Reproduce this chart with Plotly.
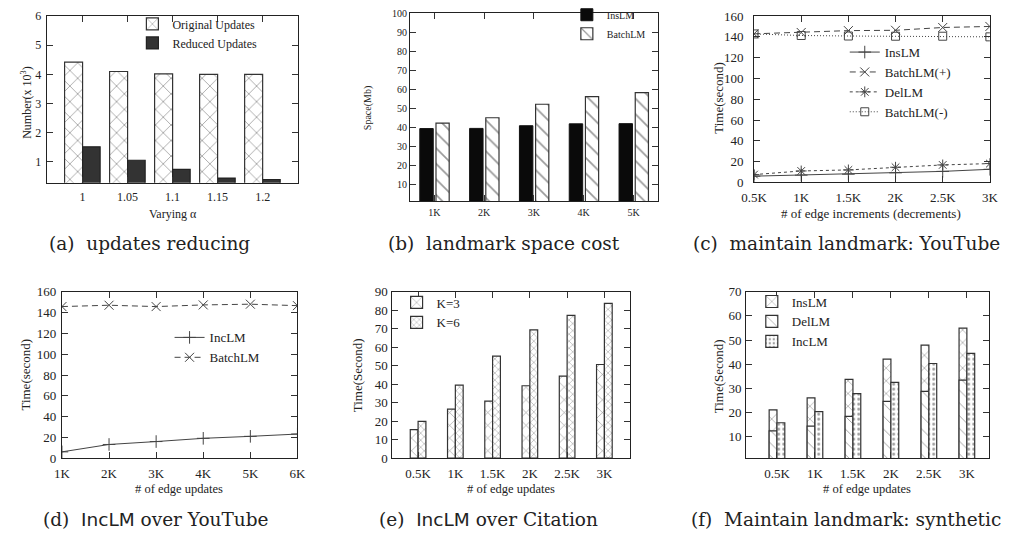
import plotly.graph_objects as go

W, H = 1025, 543

# ---------------- data ----------------
# (a) updates reducing
alpha_cats = ["1", "1.05", "1.1", "1.15", "1.2"]
original_updates = [4.42, 4.10, 4.02, 4.00, 4.00]
reduced_updates = [1.52, 1.06, 0.75, 0.45, 0.40]

# (b) landmark space cost
space_cats = ["1K", "2K", "3K", "4K", "5K"]
space_inslm = [39.3, 39.4, 40.8, 41.8, 41.9]
space_batchlm = [42.2, 45.0, 52.1, 56.1, 58.2]

# (c) maintain landmark: YouTube
c_x = [0.5, 1.0, 1.5, 2.0, 2.5, 3.0]
c_ticktext = ["0.5K", "1K", "1.5K", "2K", "2.5K", "3K"]
c_inslm = [6.0, 7.0, 7.9, 9.2, 10.6, 12.6]
c_batch_plus = [142.9, 144.2, 146.0, 146.3, 149.0, 150.0]
c_dellm = [7.5, 11.0, 12.0, 14.6, 16.8, 18.1]
c_batch_minus = [142.8, 141.3, 140.8, 140.6, 140.6, 140.0]

# (d) IncLM over YouTube
d_x = [1, 2, 3, 4, 5, 6]
d_ticktext = ["1K", "2K", "3K", "4K", "5K", "6K"]
d_inclm = [6.2, 13.3, 16.1, 19.2, 21.1, 23.3]
d_batchlm = [145.7, 147.0, 145.7, 147.3, 148.0, 146.6]

# (e) IncLM over Citation
e_cats = ["0.5K", "1K", "1.5K", "2K", "2.5K", "3K"]
e_k3 = [15.4, 26.5, 30.8, 39.1, 44.3, 50.6]
e_k6 = [19.8, 39.4, 55.1, 69.3, 77.2, 83.7]

# (f) Maintain landmark: synthetic
f_cats = ["0.5K", "1K", "1.5K", "2K", "2.5K", "3K"]
f_inslm = [21.1, 26.1, 33.7, 42.1, 47.9, 54.9]
f_dellm = [12.4, 14.4, 18.4, 24.6, 28.8, 33.4]
f_inclm = [15.8, 20.4, 27.8, 32.5, 40.3, 44.5]

# ---------------- helpers ----------------
SERIF = "Liberation Serif"
CAP = "DejaVu Serif"
TXT = "#222"


def px_x(x):
    return x / W


def px_y(y):
    return 1 - y / H


def dom_x(x0, x1):
    return [x0 / W, x1 / W]


def dom_y(y0, y1):
    return [1 - y1 / H, 1 - y0 / H]


def axis_style(fs, standoff=0):
    return dict(
        showline=True, linecolor="#222", linewidth=1, mirror="ticks",
        ticks="inside", ticklen=6, tickcolor="#333", tickwidth=1,
        showgrid=False, zeroline=False, ticklabelstandoff=standoff,
        tickfont=dict(family=SERIF, size=fs, color=TXT),
    )


fig = go.Figure()

# ---------- (a) ----------
fig.add_trace(go.Bar(
    x=alpha_cats, y=original_updates, name="Original Updates",
    xaxis="x", yaxis="y", offset=-0.4, width=0.4, legend="legend",
    marker=dict(color="white", line=dict(color="#333", width=1.2),
                pattern=dict(shape="x", size=11, solidity=0.12,
                             fgcolor="#888", bgcolor="white", fillmode="replace")),
))
fig.add_trace(go.Bar(
    x=alpha_cats, y=reduced_updates, name="Reduced Updates",
    xaxis="x", yaxis="y", offset=0.0, width=0.39, legend="legend",
    marker=dict(color="#333", line=dict(color="#222", width=1.2)),
))

# ---------- (b) ----------
fig.add_trace(go.Bar(
    x=space_cats, y=space_inslm, name="InsLM",
    xaxis="x2", yaxis="y2", offset=-0.29, width=0.27, legend="legend2",
    marker=dict(color="#0a0a0a", line=dict(color="#111", width=1)),
))
fig.add_trace(go.Bar(
    x=space_cats, y=space_batchlm, name="BatchLM",
    xaxis="x2", yaxis="y2", offset=0.035, width=0.265, legend="legend2",
    marker=dict(color="white", line=dict(color="#333", width=1.2),
                pattern=dict(shape="\\", size=11, solidity=0.15,
                             fgcolor="#999", bgcolor="white", fillmode="replace")),
))

# ---------- (c) ----------
lc = "#444"
fig.add_trace(go.Scatter(
    x=c_x, y=c_inslm, name="InsLM", mode="lines+markers", xaxis="x3", yaxis="y3",
    legend="legend3", line=dict(color=lc, width=1),
    marker=dict(symbol="cross-thin", size=9, color=lc, line=dict(color=lc, width=1)),
))
fig.add_trace(go.Scatter(
    x=c_x, y=c_batch_plus, name="BatchLM(+)", mode="lines+markers", xaxis="x3", yaxis="y3",
    legend="legend3", line=dict(color=lc, width=1, dash="6px,4px"),
    marker=dict(symbol="x-thin", size=9, color=lc, line=dict(color=lc, width=1)),
))
fig.add_trace(go.Scatter(
    x=c_x, y=c_dellm, name="DelLM", mode="lines+markers", xaxis="x3", yaxis="y3",
    legend="legend3", line=dict(color=lc, width=1, dash="3px,3px"),
    marker=dict(symbol="asterisk", size=9, color=lc, line=dict(color=lc, width=1)),
))
fig.add_trace(go.Scatter(
    x=c_x, y=c_batch_minus, name="BatchLM(-)", mode="lines+markers", xaxis="x3", yaxis="y3",
    legend="legend3", line=dict(color=lc, width=1, dash="1px,2px"),
    marker=dict(symbol="square-open", size=8, color=lc, line=dict(color=lc, width=1)),
))

# ---------- (d) ----------
fig.add_trace(go.Scatter(
    x=d_x, y=d_inclm, name="IncLM", mode="lines+markers", xaxis="x4", yaxis="y4",
    legend="legend4", line=dict(color=lc, width=1),
    marker=dict(symbol="cross-thin", size=9, color=lc, line=dict(color=lc, width=1)),
))
fig.add_trace(go.Scatter(
    x=d_x, y=d_batchlm, name="BatchLM", mode="lines+markers", xaxis="x4", yaxis="y4",
    legend="legend4", line=dict(color=lc, width=1, dash="6px,4px"),
    marker=dict(symbol="x-thin", size=9, color=lc, line=dict(color=lc, width=1)),
))

# ---------- (e) ----------
fig.add_trace(go.Bar(
    x=e_cats, y=e_k3, name="K=3", xaxis="x5", yaxis="y5",
    offset=-0.21, width=0.21, legend="legend5",
    marker=dict(color="white", line=dict(color="#333", width=1.2),
                pattern=dict(shape="x", size=9, solidity=0.12,
                             fgcolor="#888", bgcolor="white", fillmode="replace")),
))
fig.add_trace(go.Bar(
    x=e_cats, y=e_k6, name="K=6", xaxis="x5", yaxis="y5",
    offset=0.0, width=0.21, legend="legend5",
    marker=dict(color="white", line=dict(color="#333", width=1.2),
                pattern=dict(shape="x", size=5, solidity=0.2,
                             fgcolor="#999", bgcolor="white", fillmode="replace")),
))

# ---------- (f) ----------
fig.add_trace(go.Bar(
    x=f_cats, y=f_inslm, name="InsLM", xaxis="x6", yaxis="y6",
    offset=-0.206, width=0.206, legend="legend6",
    marker=dict(color="white", line=dict(color="#333", width=1.2),
                pattern=dict(shape="x", size=9, solidity=0.12,
                             fgcolor="#888", bgcolor="white", fillmode="replace")),
))
fig.add_trace(go.Bar(
    x=f_cats, y=f_dellm, name="DelLM", xaxis="x6", yaxis="y6",
    offset=-0.206, width=0.206, legend="legend6",
    marker=dict(color="white", line=dict(color="#333", width=1.2),
                pattern=dict(shape="\\", size=9, solidity=0.1,
                             fgcolor="#999", bgcolor="white", fillmode="replace")),
))
fig.add_trace(go.Bar(
    x=f_cats, y=f_inclm, name="IncLM", xaxis="x6", yaxis="y6",
    offset=0.0, width=0.206, legend="legend6",
    marker=dict(color="white", line=dict(color="#333", width=1.2),
                pattern=dict(shape=".", size=5, solidity=0.25,
                             fgcolor="#999", bgcolor="white", fillmode="replace")),
))

# ---------------- axes ----------------
layout = dict(
    width=W, height=H, margin=dict(l=0, r=0, t=0, b=0),
    paper_bgcolor="white", plot_bgcolor="white", barmode="overlay",
    font=dict(family=SERIF, color=TXT),
)

layout["xaxis"] = dict(axis_style(12, 3), domain=dom_x(34.3, 291), anchor="y",
                       type="category", range=[-0.8, 4.78])
layout["yaxis"] = dict(axis_style(12, 2), domain=dom_y(8.3, 180), anchor="x",
                       range=[0.29, 6], tickvals=[1, 2, 3, 4, 5, 6])

layout["xaxis2"] = dict(axis_style(10, 2), domain=dom_x(405.7, 659), anchor="y2",
                        type="category", range=[-0.487, 4.489])
layout["yaxis2"] = dict(axis_style(10, 0), domain=dom_y(5.3, 199.3), anchor="x2",
                        range=[1, 100], tickvals=list(range(10, 101, 10)))

layout["xaxis3"] = dict(axis_style(13, 3), domain=dom_x(757.3, 998.3), anchor="y3",
                        range=[0.5, 3.0], tickvals=c_x, ticktext=c_ticktext)
layout["yaxis3"] = dict(axis_style(13, 7), domain=dom_y(8.3, 179.7), anchor="x3",
                        range=[0, 160], tickvals=list(range(0, 161, 20)))

layout["xaxis4"] = dict(axis_style(13, 3), domain=dom_x(50, 290.7), anchor="y4",
                        range=[1, 6], tickvals=d_x, ticktext=d_ticktext)
layout["yaxis4"] = dict(axis_style(13, 2), domain=dom_y(292.3, 464), anchor="x4",
                        range=[0, 160], tickvals=list(range(0, 161, 20)))

layout["xaxis5"] = dict(axis_style(13, 3), domain=dom_x(387.7, 631), anchor="y5",
                        type="category", range=[-0.69, 5.70])
layout["yaxis5"] = dict(axis_style(13, 1), domain=dom_y(292.3, 463.7), anchor="x5",
                        range=[0, 90], tickvals=list(range(0, 91, 10)))

layout["xaxis6"] = dict(axis_style(13, 3), domain=dom_x(749.3, 997.7), anchor="y6",
                        type="category", range=[-0.81, 5.59])
layout["yaxis6"] = dict(axis_style(13, 1), domain=dom_y(292.3, 463.7), anchor="x6",
                        range=[1.2, 70], tickvals=list(range(10, 71, 10)))

# ---------------- legends ----------------
def legend_at(x, y, fs):
    return dict(x=px_x(x), y=px_y(y), xanchor="left", yanchor="top",
                bgcolor="rgba(0,0,0,0)", borderwidth=0, tracegroupgap=0,
                font=dict(family=SERIF, size=fs, color=TXT), itemwidth=30)

layout["legend"] = legend_at(122, 1.5, 12)
layout["legend2"] = legend_at(566, -8, 10)
layout["legend3"] = legend_at(850, 30, 13)
layout["legend4"] = legend_at(160, 324, 13)
layout["legend5"] = legend_at(392, 288, 13)
layout["legend6"] = legend_at(755, 287, 13)

fig.update_layout(**layout)

# ---------------- titles & captions ----------------
def ann(text, x, y, size, angle=0, family=SERIF):
    fig.add_annotation(text=text, x=px_x(x), y=px_y(y), xref="paper", yref="paper",
                       showarrow=False, textangle=angle, xanchor="center", yanchor="middle",
                       font=dict(family=family, size=size, color=TXT))

# axis titles
ann("Number(x 10<sup>3</sup>)", 13, 97, 12, -90)
ann("Varying α", 163, 212, 12)
ann("Space(Mb)", 363, 103, 10, -90)
ann("Time(second)", 721, 93, 13, -90)
ann("# of edge increments (decrements)", 877, 212, 13)
ann("Time(second)", 13, 378, 13, -90)
ann("# of edge updates", 170, 496, 12.5)
ann("Time(Second)", 352, 378, 13, -90)
ann("# of edge updates", 509, 496, 12.5)
ann("Time(Second)", 721, 380, 13, -90)
ann("# of edge updates", 873, 496, 12.5)

# captions
SANS = "<span style='font-family:DejaVu Sans'>IncLM</span>"
ann("(a)  updates reducing", 140, 243, 18.5, family=CAP)
ann("(b)  landmark space cost", 502, 243, 18.5, family=CAP)
ann("(c)  maintain landmark: YouTube", 852, 243, 18.5, family=CAP)
ann("(d)  " + SANS + " over YouTube", 146, 527, 18.5, family=CAP)
ann("(e)  " + SANS + " over Citation", 486, 527, 18.5, family=CAP)
ann("(f)  Maintain landmark: synthetic", 851, 527, 18.5, family=CAP)

fig.write_html("out.html")
